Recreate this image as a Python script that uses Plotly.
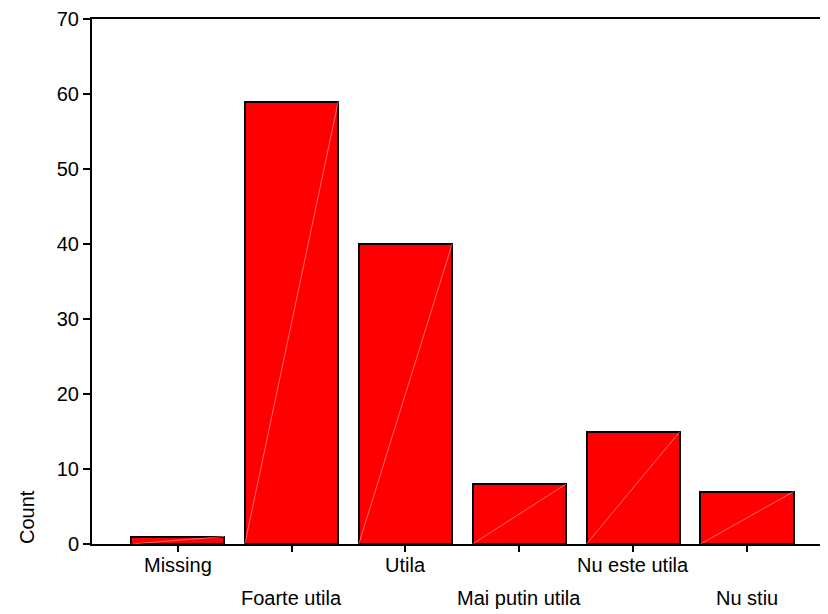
import plotly.graph_objects as go

categories = ["Missing", "Foarte utila", "Utila", "Mai putin utila", "Nu este utila", "Nu stiu"]
counts = [1, 59, 40, 8, 15, 7]
y_ticks = [0, 10, 20, 30, 40, 50, 60, 70]

FONT = "Liberation Sans, Arial, sans-serif"
BAR_W = 0.82
pos = list(range(len(categories)))

fig = go.Figure()
fig.add_trace(go.Bar(
    x=pos, y=counts, width=BAR_W,
    marker=dict(color="#ff0000", line=dict(color="#000000", width=2)),
    showlegend=False, hoverinfo="skip",
))

# faint diagonal rendering seam inside each bar (from data)
for i, v in zip(pos, counts):
    fig.add_trace(go.Scatter(
        x=[i - BAR_W / 2, i + BAR_W / 2], y=[0, v], mode="lines",
        line=dict(color="rgba(255,190,190,0.8)", width=0.7),
        showlegend=False, hoverinfo="skip",
    ))

# staggered category labels
for i, name in enumerate(categories):
    fig.add_annotation(
        x=i, y=0, xref="x", yref="y", text=name, showarrow=False,
        yanchor="middle", yshift=-21 if i % 2 == 0 else -54,
        font=dict(family=FONT, size=20, color="#000000"),
    )

fig.add_annotation(
    x=0, y=0, xref="paper", yref="y", text="Count", showarrow=False,
    textangle=-90, xanchor="center", yanchor="bottom", xshift=-65, yshift=-2,
    font=dict(family=FONT, size=20, color="#000000"),
)

fig.update_layout(
    width=820, height=606,
    margin=dict(l=84, r=0, t=11, b=70),
    paper_bgcolor="white", plot_bgcolor="white",
    font=dict(family=FONT, size=20, color="#000000"),
    bargap=0,
)
fig.update_xaxes(
    range=[-0.752, 5.71], tickvals=pos, showticklabels=False,
    ticks="outside", ticklen=6, tickwidth=2, tickcolor="#000",
    showline=True, linecolor="#000", linewidth=2, mirror=True,
    showgrid=False, zeroline=False,
)
fig.update_yaxes(
    range=[0, 70], tickvals=y_ticks, ticktext=[str(t) for t in y_ticks],
    ticks="outside", ticklen=7, tickwidth=2, tickcolor="#000",
    showline=True, linecolor="#000", linewidth=2,
    showgrid=False, zeroline=False,
    tickfont=dict(family=FONT, size=20, color="#000"),
)

fig.write_html("out.html")
